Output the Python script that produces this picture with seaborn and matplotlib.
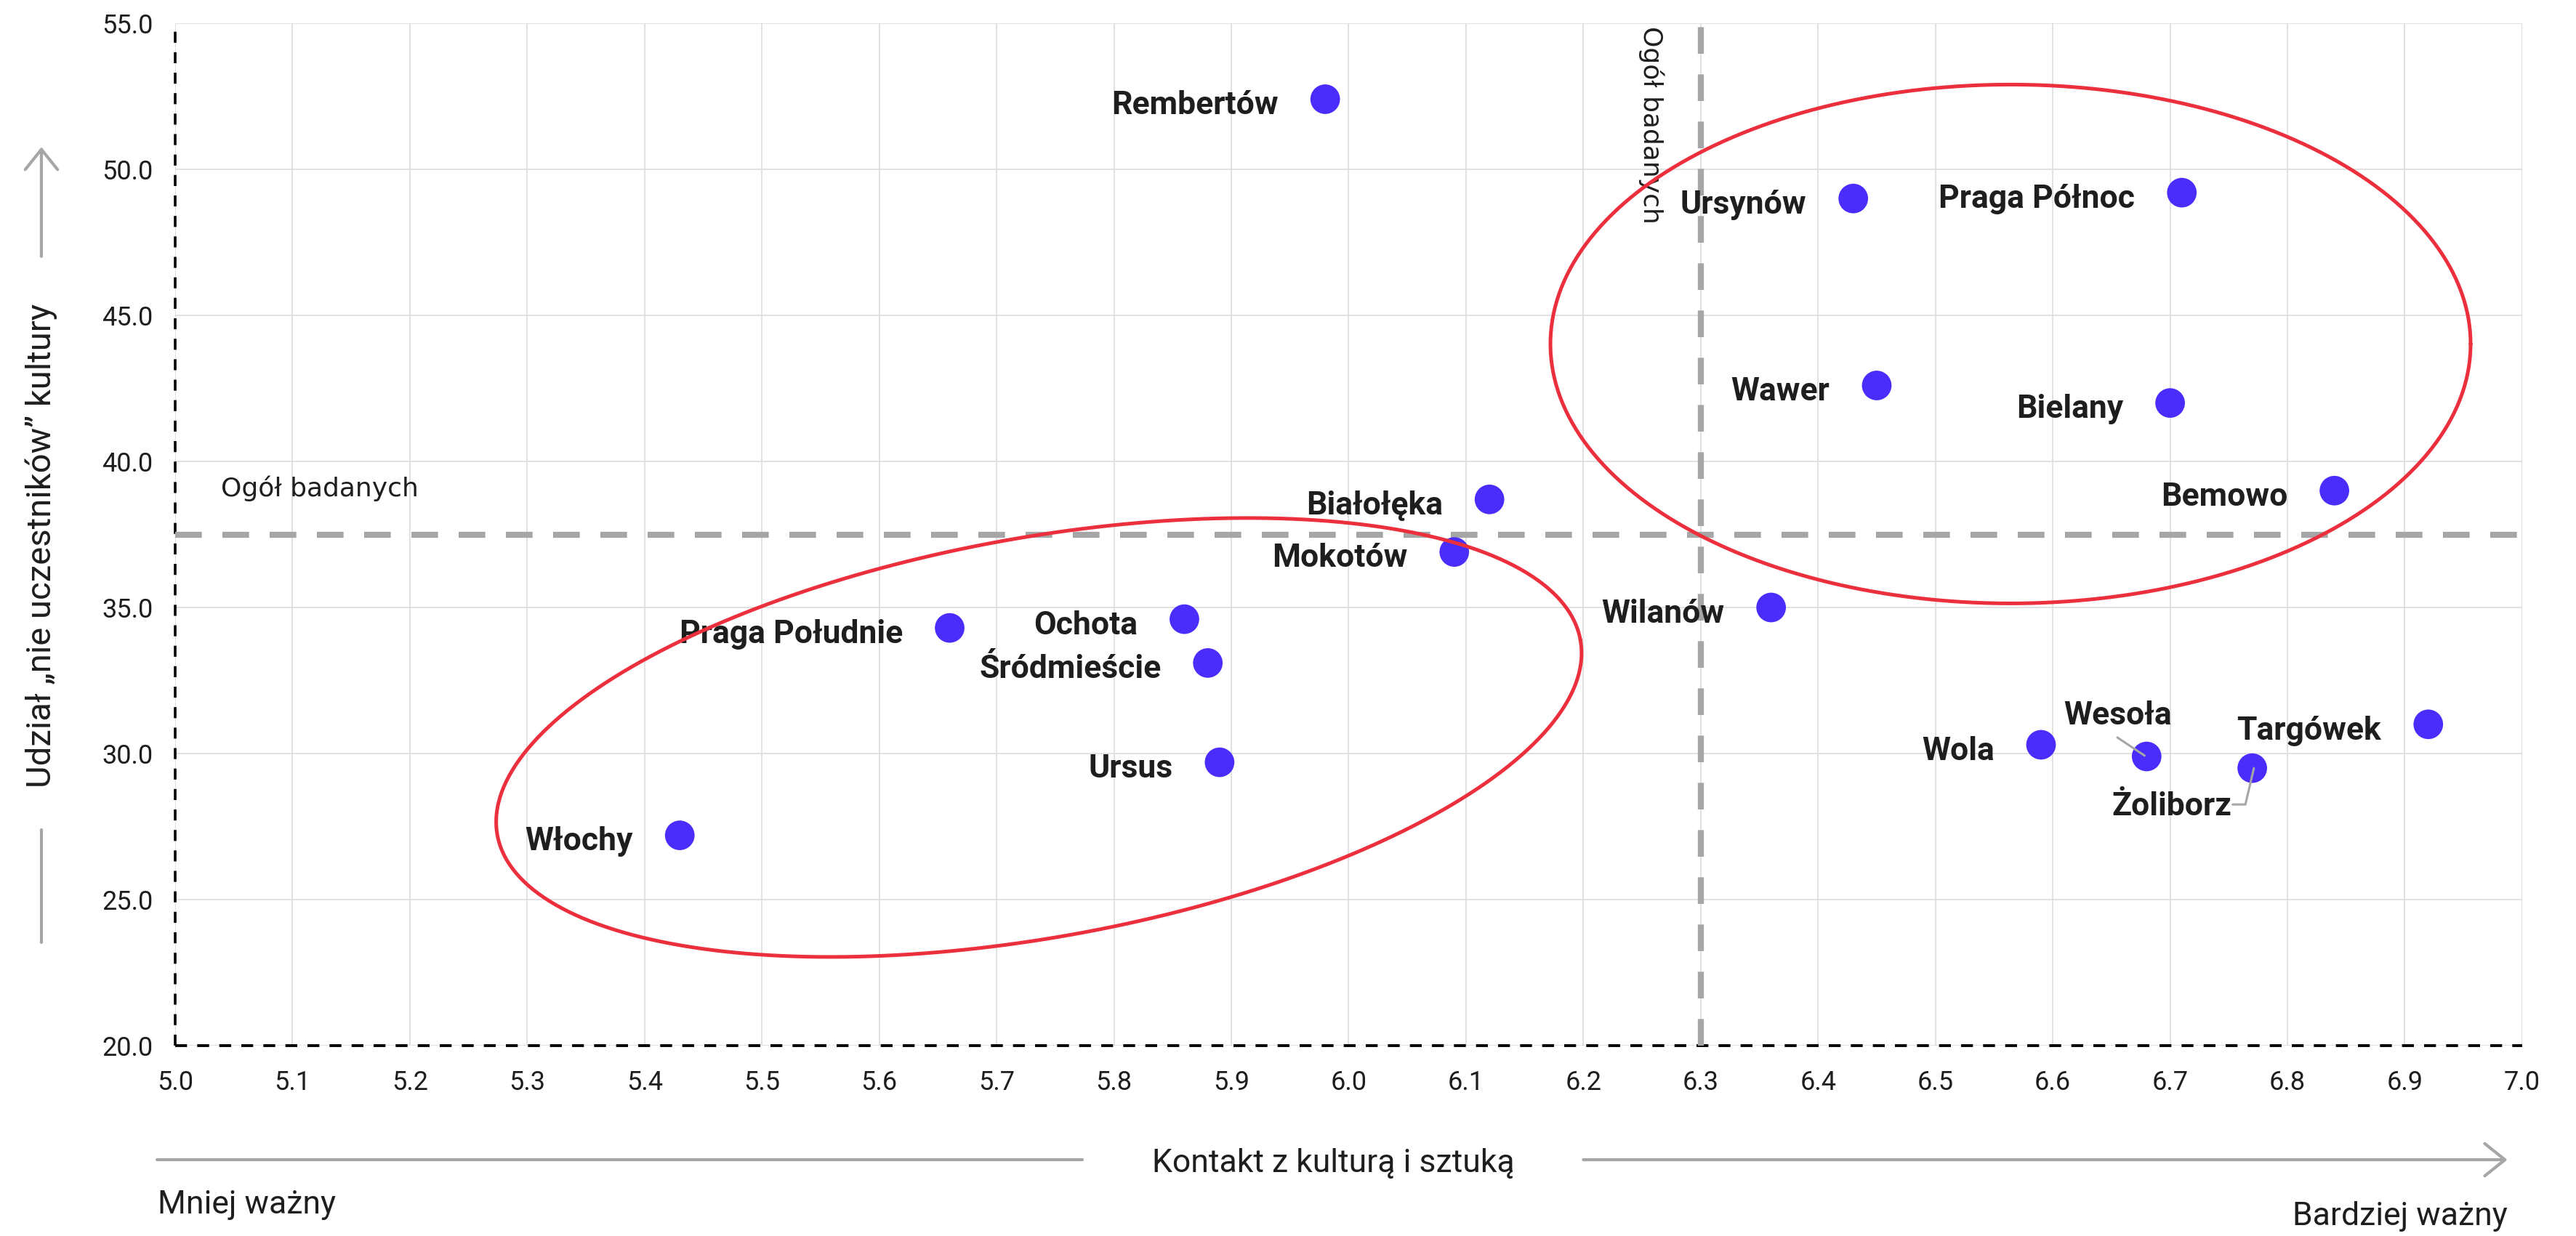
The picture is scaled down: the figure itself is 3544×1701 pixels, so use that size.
import numpy as np
import pandas as pd
import matplotlib
matplotlib.use("Agg")
import matplotlib.pyplot as plt
import seaborn as sns

# --- data ---
districts = ["Rembertów", "Ursynów", "Praga Północ", "Wawer", "Bielany", "Bemowo",
             "Białołęka", "Mokotów", "Wilanów", "Praga Południe", "Ochota",
             "Śródmieście", "Ursus", "Włochy", "Wola", "Wesoła", "Żoliborz", "Targówek"]
contact = [5.98, 6.43, 6.71, 6.45, 6.70, 6.84,
           6.12, 6.09, 6.36, 5.66, 5.86,
           5.88, 5.89, 5.43, 6.59, 6.68, 6.77, 6.92]
non_participants = [52.4, 49.0, 49.2, 42.6, 42.0, 39.0,
                    38.7, 36.9, 35.0, 34.3, 34.6,
                    33.1, 29.7, 27.2, 30.3, 29.9, 29.5, 31.0]

overall_contact = 6.3
overall_non_part = 37.5
overall_label = "Ogół badanych"

x_ticks = [5.0, 5.1, 5.2, 5.3, 5.4, 5.5, 5.6, 5.7, 5.8, 5.9, 6.0,
           6.1, 6.2, 6.3, 6.4, 6.5, 6.6, 6.7, 6.8, 6.9, 7.0]
y_ticks = [20, 25, 30, 35, 40, 45, 50, 55]

x_title = "Kontakt z kulturą i sztuką"
y_title = "Udział „nie uczestników” kultury"
x_low = "Mniej ważny"
x_high = "Bardziej ważny"

# highlight ellipses: centre in data units, semi-axes in pixels, angle in degrees
ellipses = [((5.736, 30.55), 757, 275, 10.2),
            ((6.564, 44.02), 633, 357, 0.0)]

df = pd.DataFrame({"district": districts, "contact": contact, "non_part": non_participants})

DOT = "#4b2dfb"
RED = "#ec2f3d"
GREY = "#a6a6a6"
INK = "#1e1e1e"

sns.set_theme(style="white")
plt.rcParams["font.family"] = ["Roboto", "DejaVu Sans"]

DPI = 200
fig = plt.figure(figsize=(17.72, 8.505), dpi=DPI)
ax = fig.add_axes([0.068, 0.154, 0.9111, 0.8272])

sns.scatterplot(data=df, x="contact", y="non_part", s=215, color=DOT,
                edgecolor="none", linewidth=0, ax=ax, zorder=4, legend=False)

ax.set_xlim(5.0, 7.0)
ax.set_ylim(20, 55)
ax.set_xticks(x_ticks)
ax.set_yticks(y_ticks)
ax.set_xticklabels([f"{v:.1f}" for v in x_ticks])
ax.set_yticklabels([f"{v:.1f}" for v in y_ticks])
ax.set_axisbelow(True)
ax.grid(True, color="#dcdcdc", lw=0.6)
for sp in ax.spines.values():
    sp.set_visible(False)
ax.tick_params(axis="both", length=0, labelsize=13, labelcolor=INK)
ax.tick_params(axis="y", pad=11)
ax.tick_params(axis="x", pad=12)
ax.set_xlabel("")
ax.set_ylabel("")

# dashed black axes
ax.axvline(5.0, color="black", lw=1.3, dashes=(4.2, 3.6), zorder=2, clip_on=False)
ax.axhline(20, color="black", lw=1.4, dashes=(4.2, 3.6), zorder=2, clip_on=False)

# overall reference lines
ax.axvline(overall_contact, color=GREY, lw=3, dashes=(4.4, 3.4), zorder=2)
ax.axhline(overall_non_part, color=GREY, lw=3, dashes=(4.4, 3.4), zorder=2)
ax.text(5.039, overall_non_part + 1.57, overall_label, family="DejaVu Sans",
        fontsize=13, color=INK, ha="left", va="center")
ax.text(overall_contact - 0.042, 54.9, overall_label, family="DejaVu Sans",
        fontsize=13, color=INK, rotation=-90, ha="center", va="top")


def offset_to_data(x, y, dx_pt, dy_pt):
    px, py = ax.transData.transform((x, y))
    k = DPI / 72.0
    return ax.transData.inverted().transform((px + dx_pt * k, py + dy_pt * k))


# labels (offsets in points)
special = {"Wesoła": ((-14.2, 16.0), "center"),
           "Żoliborz": ((-10.2, -23.2), "right")}
for name, x, y in zip(districts, contact, non_participants):
    off, ha = special.get(name, ((-23.2, -7.5), "right"))
    ax.annotate(name, (x, y), xytext=off, textcoords="offset points",
                ha=ha, va="baseline", fontsize=16, fontweight="bold",
                color=INK, zorder=5)

# leader lines
leaders = {"Wesoła": [(-14.5, 9.4), (-1.0, 0.4)],
           "Żoliborz": [(0.8, 0.0), (-3.4, -18.0), (-9.7, -18.0)]}
for name, path in leaders.items():
    i = districts.index(name)
    pts = np.array([offset_to_data(contact[i], non_participants[i], dx, dy) for dx, dy in path])
    ax.plot(pts[:, 0], pts[:, 1], color=GREY, lw=1.1, zorder=5)

# ellipses
t = np.linspace(0, 2 * np.pi, 500)
for (cx, cy), a, b, ang in ellipses:
    cxp, cyp = ax.transData.transform((cx, cy))
    th = np.deg2rad(ang)
    px = cxp + a * np.cos(t) * np.cos(th) - b * np.sin(t) * np.sin(th)
    py = cyp + a * np.cos(t) * np.sin(th) + b * np.sin(t) * np.cos(th)
    pts = ax.transData.inverted().transform(np.column_stack([px, py]))
    ax.plot(pts[:, 0], pts[:, 1], color=RED, lw=1.8, zorder=6)

# y-axis title with arrow
yx = -0.0570
ax.annotate("", xy=(yx, 0.879), xytext=(yx, 0.772), xycoords="axes fraction",
            annotation_clip=False,
            arrowprops=dict(arrowstyle="->,head_length=0.5,head_width=0.4",
                            color=GREY, lw=1.5, mutation_scale=20, shrinkA=0, shrinkB=0))
ax.plot([yx, yx], [0.211, 0.101], transform=ax.transAxes, clip_on=False, color=GREY, lw=1.5)
ax.text(yx, 0.489, y_title, rotation=90, ha="center", va="center",
        transform=ax.transAxes, fontsize=17, color=INK)

# x-axis title with arrow
by = -0.1116
ax.plot([-0.0077, 0.3864], [by, by], transform=ax.transAxes, clip_on=False, color=GREY, lw=1.5)
ax.annotate("", xy=(0.9937, by), xytext=(0.600, by), xycoords="axes fraction",
            annotation_clip=False,
            arrowprops=dict(arrowstyle="->,head_length=0.5,head_width=0.4",
                            color=GREY, lw=1.5, mutation_scale=20, shrinkA=0, shrinkB=0))
ax.text(0.4933, -0.1233, x_title, ha="center", va="baseline",
        transform=ax.transAxes, fontsize=16, color=INK)
ax.text(-0.0074, -0.164, x_low, ha="left", va="baseline",
        transform=ax.transAxes, fontsize=16, color=INK)
ax.text(0.9937, -0.1756, x_high, ha="right", va="baseline",
        transform=ax.transAxes, fontsize=16, color=INK)

fig.savefig("out.png", dpi=DPI, facecolor="white")
